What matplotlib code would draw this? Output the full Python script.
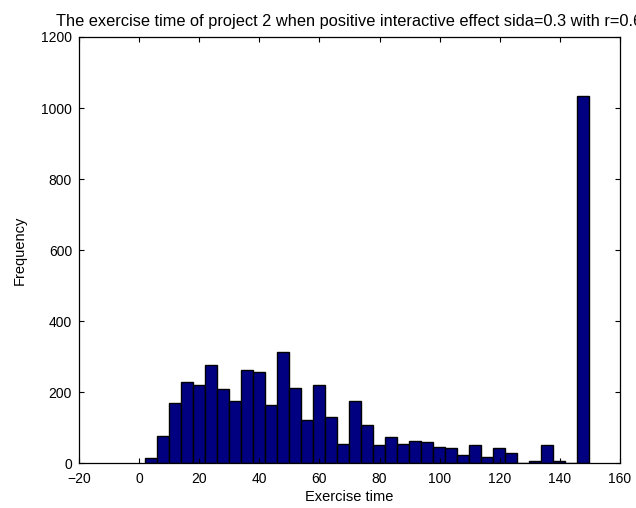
"""Histogram of project 2 exercise time (positive interactive effect)."""

import numpy as np
import matplotlib
matplotlib.use('Agg')
import matplotlib.pyplot as plt

plt.rcParams['font.family'] = ['Liberation Sans', 'DejaVu Sans']

# bin edges (exercise time) and counts
BIN_START = 1.9
BIN_END = 149.7
N_BINS = 37
COUNTS = [
    16, 77, 169, 228, 222, 277, 208, 175, 264, 257,
    165, 313, 211, 123, 222, 130, 56, 175, 108, 52,
    74, 56, 62, 59, 47, 42, 24, 52, 19, 42,
    30, 0, 6, 52, 7, 0, 1033,
]
X_TICKS = [-20, 0, 20, 40, 60, 80, 100, 120, 140, 160]
Y_TICKS = [0, 200, 400, 600, 800, 1000, 1200]

TITLE = 'The exercise time of project 2 when positive interactive effect sida=0.3 with r=0.6'


def main():
    edges = np.linspace(BIN_START, BIN_END, N_BINS + 1)

    fig = plt.figure(figsize=(6.36, 5.08), dpi=100)
    ax = fig.add_axes([79 / 636, 1 - 463.4 / 508, (620 - 79) / 636, (463.4 - 37) / 508])

    ax.bar(edges[:-1], COUNTS, width=np.diff(edges), align='edge',
           color='#000080', edgecolor='black', linewidth=1.0)

    ax.set_xlim(-20, 160)
    ax.set_ylim(0, 1200)
    ax.set_xticks(X_TICKS)
    ax.set_yticks(Y_TICKS)
    ax.set_axisbelow(False)
    ax.tick_params(direction='in', length=3.6, width=0.8, labelsize=10,
                   top=True, right=True, colors='black')
    ax.tick_params(axis='y', pad=5)
    ax.tick_params(axis='x', pad=6)
    for sp in ax.spines.values():
        sp.set_linewidth(0.9)

    ax.set_title(TITLE, fontsize=11.8, pad=8)
    ax.set_xlabel('Exercise time', fontsize=10.5, labelpad=3)
    ax.set_ylabel('Frequency', fontsize=10.5, labelpad=10)

    fig.savefig('out.png', dpi=100)


if __name__ == '__main__':
    main()
